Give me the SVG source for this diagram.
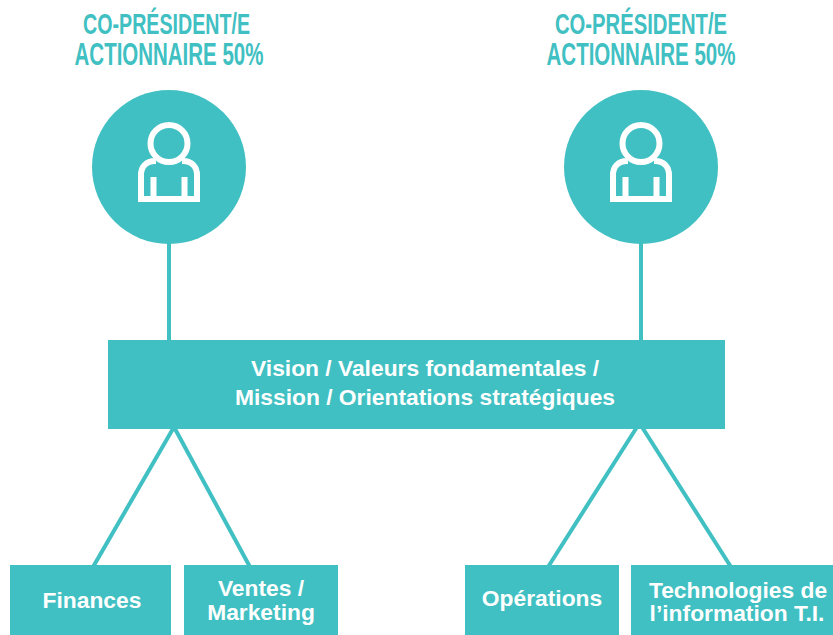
<svg xmlns="http://www.w3.org/2000/svg" width="833" height="635" viewBox="0 0 833 635">
<style>
.f{fill:#40c0c2}
.l{stroke:#40c0c2;stroke-width:4;fill:none}
.t{font-family:"Liberation Sans",Arial,sans-serif;font-weight:700;font-size:22.800px;fill:#fff;text-anchor:middle}
.h1{font-family:"Liberation Sans",Arial,sans-serif;font-weight:700;font-size:30px;fill:#40c0c2;text-anchor:middle}
.h2{font-family:"Liberation Sans",Arial,sans-serif;font-weight:700;font-size:32px;fill:#40c0c2;text-anchor:middle}
.i{fill:none;stroke:#fff;stroke-width:6}
</style>
<defs>
<g id="person">
<circle cx="0" cy="-3.500" r="18.500"/>
<path d="M-13 14H-14C-23 14 -28 20 -28 28V52H28V28C28 20 23 14 14 14H13"/>
<path d="M-15.500 30V52M15.500 30V52"/>
</g>
</defs>
<rect width="833" height="635" fill="#fff"/>
<g id="connectors" class="l">
<path d="M169 240V342"/>
<path d="M641 240V342"/>
<path d="M174 427L93 567"/>
<path d="M174 427L250 567"/>
<path d="M637 427L548 567"/>
<path d="M642 427L731 567"/>
</g>
<g id="president-1">
<text class="h1" transform="translate(166.500,34) scale(.655,1)">CO-PRÉSIDENT/E</text>
<text class="h2" transform="translate(169,65) scale(.64,1)">ACTIONNAIRE 50%</text>
<circle class="f" cx="169" cy="167" r="77"/>
<use href="#person" x="169" y="147" class="i"/>
</g>
<g id="president-2">
<text class="h1" transform="translate(641,34) scale(.675,1)">CO-PRÉSIDENT/E</text>
<text class="h2" transform="translate(641,65) scale(.64,1)">ACTIONNAIRE 50%</text>
<circle class="f" cx="641" cy="167" r="77"/>
<use href="#person" x="641" y="147" class="i"/>
</g>
<g id="vision">
<rect class="f" x="108" y="340" width="617" height="89"/>
<text class="t" x="425" y="376">Vision / Valeurs fondamentales /</text>
<text class="t" x="425" y="405">Mission / Orientations stratégiques</text>
</g>
<g id="finances">
<rect class="f" x="10" y="565" width="161" height="70"/>
<text class="t" x="92" y="608">Finances</text>
</g>
<g id="ventes">
<rect class="f" x="184" y="565" width="154" height="70"/>
<text class="t" x="261" y="596">Ventes /</text>
<text class="t" x="261" y="620">Marketing</text>
</g>
<g id="operations">
<rect class="f" x="465" y="565" width="154" height="70"/>
<text class="t" x="542" y="606">Opérations</text>
</g>
<g id="technologies">
<rect class="f" x="631" y="565" width="202" height="70"/>
<text class="t" x="738" y="598">Technologies de</text>
<text class="t" x="737" y="621">l’information T.I.</text>
</g>
</svg>
